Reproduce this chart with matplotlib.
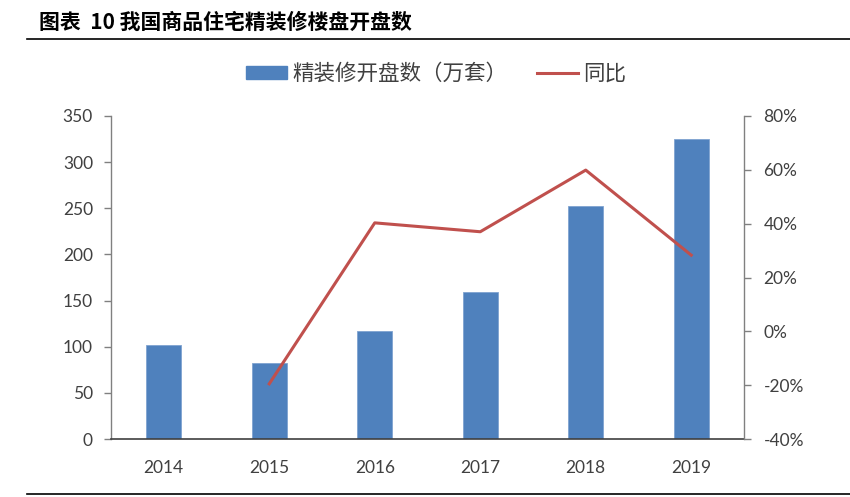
import matplotlib
matplotlib.use("Agg")
import matplotlib.pyplot as plt
from matplotlib.patches import Patch
from matplotlib.lines import Line2D
import numpy as np

years = ["2014", "2015", "2016", "2017", "2018", "2019"]
openings = [102, 82, 116.5, 159, 253, 325.5]          # 精装修开盘数（万套）
yoy = [np.nan, -19.5, 40.3, 37.0, 59.9, 28.3]          # 同比 (%)
left_ticks = [0, 50, 100, 150, 200, 250, 300, 350]
right_ticks = [-40, -20, 0, 20, 40, 60, 80]

title = "图表  10 我国商品住宅精装修楼盘开盘数"
bar_label = "精装修开盘数（万套）"
line_label = "同比"

bar_color = "#4F81BD"
line_color = "#C0504D"
tick_color = "#404040"
cjk = ["Noto Sans CJK SC", "DejaVu Sans"]
num_font = ["Lato", "DejaVu Sans"]

W, H = 850, 497
fig = plt.figure(figsize=(W / 100, H / 100), dpi=100)

ax = fig.add_axes([111 / W, (H - 439) / H, (744 - 111) / W, (439 - 116) / H])
x = np.arange(len(years))
ax.bar(x, openings, width=0.33, color=bar_color, edgecolor="#7FA3D0", linewidth=0.6, zorder=2)
ax.set_xlim(-0.5, len(years) - 0.5)
ax.set_ylim(0, 350)
ax.set_yticks(left_ticks)
ax.set_xticks(x)
ax.set_xticklabels(years)
for s in ["top", "right"]:
    ax.spines[s].set_visible(False)
ax.spines["left"].set_color("#808080")
ax.spines["bottom"].set_color("#404040")
ax.spines["left"].set_linewidth(1.0)
ax.spines["bottom"].set_linewidth(1.2)
ax.tick_params(axis="y", direction="out", length=5, width=1.0, color="#808080",
               pad=8, labelsize=12.5, labelcolor=tick_color)
ax.tick_params(axis="x", length=0, pad=15, labelsize=12.5, labelcolor=tick_color)
for lab in ax.get_xticklabels() + ax.get_yticklabels():
    lab.set_family(num_font)

ax2 = ax.twinx()
ax2.plot(x, yoy, color=line_color, linewidth=2.2, zorder=3)
ax2.set_ylim(-40, 80)
ax2.set_yticks(right_ticks)
ax2.set_yticklabels([f"{v}%" for v in right_ticks])
for s in ["top", "left", "bottom"]:
    ax2.spines[s].set_visible(False)
ax2.spines["right"].set_color("#808080")
ax2.spines["right"].set_linewidth(1.0)
ax2.tick_params(axis="y", direction="out", length=5, width=1.0, color="#808080",
                pad=9, labelsize=12.5, labelcolor=tick_color)
for lab in ax2.get_yticklabels():
    lab.set_family(num_font)

handles = [Patch(facecolor=bar_color, edgecolor=bar_color),
           Line2D([0], [0], color=line_color, linewidth=2.2)]
leg = fig.legend(handles, [bar_label, line_label], loc="center",
                 bbox_to_anchor=(436 / W, 1 - 74 / H), ncol=2, frameon=False,
                 prop={"family": cjk, "size": 15.5}, handlelength=1.9,
                 handleheight=0.55, handletextpad=0.25, columnspacing=1.4)
for t in leg.get_texts():
    t.set_color("#404040")

fig.text(39 / W, 1 - 22 / H, title, ha="left", va="center", fontsize=15,
         fontweight="bold", family=cjk, color="black")
fig.add_artist(Line2D([27 / W, 1.0], [1 - 39 / H, 1 - 39 / H], color="black",
                      linewidth=1.2, transform=fig.transFigure))
fig.add_artist(Line2D([27 / W, 1.0], [1 - 494 / H, 1 - 494 / H], color="black",
                      linewidth=1.2, transform=fig.transFigure))

fig.savefig("out.png", dpi=100)
